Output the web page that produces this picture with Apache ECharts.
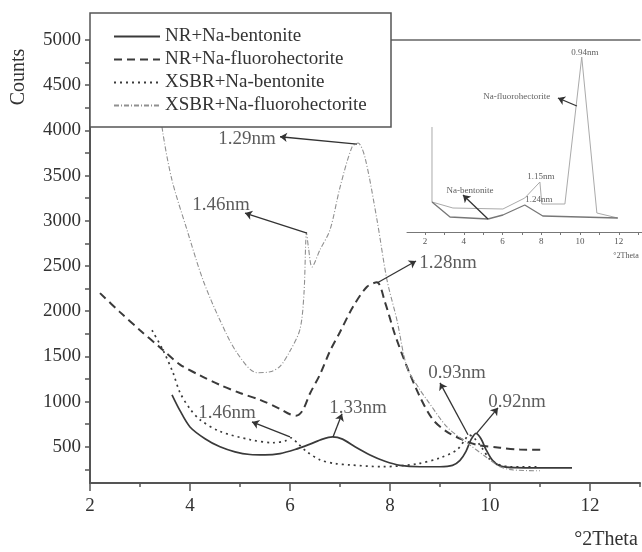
<!DOCTYPE html>
<html>
<head>
<meta charset="utf-8">
<style>
html, body { margin: 0; padding: 0; background: #fff; }
#main { width: 642px; height: 552px; }
</style>
<script src="https://cdn.jsdelivr.net/npm/echarts@6/dist/echarts.min.js"></script>
</head>
<body>
<div id="main"></div>
<script>
// main chart data (°2Theta, counts)
var seriesNames = ['NR+Na-bentonite', 'NR+Na-fluorohectorite', 'XSBR+Na-bentonite', 'XSBR+Na-fluorohectorite'];

var nrBentonite = [[3.64,1075],[3.8,900],[4.0,720],[4.3,590],[4.6,500],[4.9,445],[5.2,415],[5.5,410],[5.8,425],
  [6.1,470],[6.4,530],[6.65,585],[6.85,610],[7.05,585],[7.3,500],[7.6,410],[7.9,340],[8.2,295],[8.6,280],
  [9.0,280],[9.25,295],[9.4,350],[9.52,450],[9.62,580],[9.72,650],[9.82,590],[9.92,470],[10.05,350],
  [10.2,290],[10.5,270],[11.0,268],[11.64,268]];

var nrFluoro = [[2.2,2200],[2.6,1990],[3.0,1790],[3.4,1600],[3.8,1410],[4.2,1290],[4.6,1185],[5.0,1095],
  [5.4,1020],[5.8,920],[6.0,860],[6.12,845],[6.25,900],[6.4,1090],[6.6,1300],[6.8,1560],[7.0,1770],
  [7.26,2050],[7.54,2270],[7.74,2320],[7.9,2100],[8.1,1740],[8.34,1384],[8.6,1052],[8.86,800],
  [9.14,666],[9.46,577],[9.74,522],[10.2,490],[10.6,470],[11.04,467]];

var xsbrBentonite = [[3.24,1790],[3.46,1570],[3.66,1320],[3.8,1100],[4.0,920],[4.2,800],[4.6,670],[5.2,580],
  [5.66,545],[5.9,565],[6.02,600],[6.15,540],[6.34,445],[6.6,356],[6.9,315],[7.2,300],[7.86,280],
  [8.54,312],[9.0,378],[9.34,467],[9.5,580],[9.58,630],[9.68,600],[9.85,480],[10.0,360],[10.2,300],
  [10.4,280],[11.0,280]];

var xsbrFluoro = [[3.3,4700],[3.45,4000],[3.64,3450],[3.94,2900],[4.26,2345],[4.6,1900],[4.94,1540],
  [5.34,1320],[5.6,1330],[5.8,1390],[6.0,1560],[6.2,1800],[6.28,2200],[6.33,2870],[6.37,2700],
  [6.44,2490],[6.6,2680],[6.8,2900],[7.0,3370],[7.24,3815],[7.36,3860],[7.5,3700],[7.74,3010],
  [7.94,2345],[8.14,1900],[8.34,1380],[8.6,1130],[8.74,1020],[9.14,720],[9.54,545],[9.94,380],
  [10.2,280],[10.46,245],[11.0,235]];

// inset traces (°2Theta, relative intensity)
var insetFluoro = [[2.36,105],[2.36,30],[3.44,24],[6.02,23],[7.15,34],[7.93,50],[8.03,28],[9.22,28],
  [10.09,175],[10.87,19],[11.95,14]];
var insetBentonite = [[2.36,30],[3.29,15],[5.25,13],[6.02,17],[7.15,27],[8.08,16],[11.95,14]];

// tick labels
var yLabels = [500,1000,1500,2000,2500,3000,3500,4000,4500,5000];
var yTicks = [250,500,750,1000,1250,1500,1750,2000,2250,2500,2750,3000,3250,3500,3750,4000,4250,4500,4750,5000];
var insetTicks = [2,3,4,5,6,7,8,9,10,11,12,13];
var insetLabels = [2,4,6,8,10,12];

// annotations: text, label position, arrow from, arrow to
var mainNotes = [
  ['1.29nm', [5.14,3910], [7.34,3848], [5.8,3930]],
  ['1.46nm', [4.62,3174], [6.34,2865], [5.1,3086]],
  ['1.28nm', [9.16,2533], [7.74,2312], [8.52,2555]],
  ['1.46nm', [4.74,876], [6.0,610], [5.24,776]],
  ['1.33nm', [7.36,931], [6.86,610], [7.04,865]],
  ['0.93nm', [9.34,1318], [9.56,633], [9.0,1207]],
  ['0.92nm', [10.54,997], [9.74,655], [10.16,931]]
];
var insetNotes = [
  ['0.94nm', [10.25,179], null, null],
  ['Na-fluorohectorite', [6.74,135], [9.84,126], [8.86,134]],
  ['1.15nm', [7.98,55], null, null],
  ['1.24nm', [7.88,32], null, null],
  ['Na-bentonite', [4.32,41], [5.25,13], [3.96,37]]
];

var serif = 'Liberation Serif';
var ink = '#333';

function noteLabels(notes, xi, yi, size) {
  return {
    type: 'scatter', xAxisIndex: xi, yAxisIndex: yi, symbolSize: 0, silent: true, z: 5,
    label: { show: true, position: 'inside', color: ink, fontFamily: serif, fontSize: size,
      formatter: function (p) { return p.value[2]; } },
    data: notes.map(function (n) { return [n[1][0], n[1][1], n[0]]; })
  };
}
function noteArrows(notes, xi, yi) {
  return {
    type: 'lines', coordinateSystem: 'cartesian2d', xAxisIndex: xi, yAxisIndex: yi, silent: true, z: 5,
    symbol: ['none', 'arrow'], symbolSize: 7,
    lineStyle: { color: '#333', width: 1.3, opacity: 1 },
    data: notes.filter(function (n) { return n[2]; }).map(function (n) { return { coords: [n[2], n[3]] }; })
  };
}

var dom = document.getElementById('main');
var myChart = echarts.init(dom, null, { renderer: 'canvas' });

var option = {
  backgroundColor: '#fff',
  animation: false,
  grid: [
    { left: 90, right: 2, top: 40, bottom: 69 },
    { left: 407, right: 0, top: 40, bottom: 320 }
  ],
  legend: {
    data: seriesNames,
    orient: 'vertical',
    left: 113,
    top: 27,
    z: 10,
    padding: 0,
    itemWidth: 46,
    itemHeight: 14,
    itemGap: 4,
    itemStyle: { opacity: 0 },
    textStyle: { fontFamily: serif, fontSize: 19, lineHeight: 19, color: ink }
  },
  xAxis: [
    {
      gridIndex: 0, type: 'value', position: 'bottom', min: 2, max: 13, interval: 2,
      axisLine: { lineStyle: { color: '#555', width: 2 } },
      axisTick: { length: 8, lineStyle: { color: '#555', width: 1.5 } },
      axisLabel: { fontFamily: serif, fontSize: 19, color: ink, margin: 14, showMaxLabel: false },
      splitLine: { show: false }
    },
    {
      gridIndex: 0, type: 'value', position: 'top', min: 2, max: 13,
      axisLine: { lineStyle: { color: '#666', width: 1.5 } },
      axisTick: { show: false }, axisLabel: { show: false }, splitLine: { show: false }
    },
    {
      gridIndex: 0, type: 'value', position: 'bottom', min: 2, max: 13, interval: 1,
      axisLine: { show: false },
      axisTick: { length: 4, lineStyle: { color: '#555', width: 1.5 } },
      axisLabel: { show: false }, splitLine: { show: false }
    },
    {
      gridIndex: 1, type: 'value', min: 1.07, max: 13.2,
      axisLine: { lineStyle: { color: '#777', width: 1 } },
      axisTick: { customValues: insetTicks, length: 3, lineStyle: { color: '#777' } },
      axisLabel: { customValues: insetLabels, fontFamily: serif, fontSize: 9, color: '#555', margin: 5 },
      splitLine: { show: false }
    }
  ],
  yAxis: [
    {
      gridIndex: 0, type: 'value', min: 100, max: 5000,
      axisLine: { show: true, lineStyle: { color: '#555', width: 2 } },
      axisTick: { show: true, customValues: yTicks, length: 5, lineStyle: { color: '#555', width: 1.5 } },
      axisLabel: { customValues: yLabels, fontFamily: serif, fontSize: 19, color: ink, margin: 9,
        formatter: function (v) { return String(v); } },
      splitLine: { show: false }
    },
    { gridIndex: 1, type: 'value', min: 0, max: 192, show: false }
  ],
  graphic: [
    { type: 'rect', z: 6, shape: { x: 90, y: 13, width: 301, height: 114 },
      style: { fill: '#fff', stroke: '#555', lineWidth: 1.5 } },
    { type: 'text', x: 19, y: 77, rotation: Math.PI / 2,
      style: { text: 'Counts', textAlign: 'center', textVerticalAlign: 'middle', fontFamily: serif, fontSize: 20, fill: ink } },
    { type: 'text', x: 606, y: 540,
      style: { text: '°2Theta', textAlign: 'center', textVerticalAlign: 'middle', fontFamily: serif, fontSize: 20, fill: ink } },
    { type: 'text', x: 626, y: 256,
      style: { text: '°2Theta', textAlign: 'center', textVerticalAlign: 'middle', fontFamily: serif, fontSize: 8, fill: '#555' } }
  ],
  series: [
    { name: seriesNames[0], type: 'line', data: nrBentonite, symbol: 'none', smooth: 0.3,
      lineStyle: { color: '#3a3a3a', width: 1.7 }, itemStyle: { color: '#3a3a3a' } },
    { name: seriesNames[1], type: 'line', data: nrFluoro, symbol: 'none', smooth: 0.3,
      lineStyle: { color: '#3a3a3a', width: 2, type: [8, 5] }, itemStyle: { color: '#3a3a3a' } },
    { name: seriesNames[2], type: 'line', data: xsbrBentonite, symbol: 'none', smooth: 0.3,
      lineStyle: { color: '#3a3a3a', width: 1.7, type: [2, 4] }, itemStyle: { color: '#3a3a3a' } },
    { name: seriesNames[3], type: 'line', data: xsbrFluoro, symbol: 'none', smooth: 0.3,
      lineStyle: { color: '#909090', width: 1.1, type: [5, 2, 1, 2] }, itemStyle: { color: '#909090' } },
    { type: 'line', xAxisIndex: 3, yAxisIndex: 1, data: insetFluoro, symbol: 'none', silent: true,
      lineStyle: { color: '#aaa', width: 1 } },
    { type: 'line', xAxisIndex: 3, yAxisIndex: 1, data: insetBentonite, symbol: 'none', silent: true,
      lineStyle: { color: '#777', width: 1.3 } },
    noteArrows(mainNotes, 0, 0),
    noteLabels(mainNotes, 0, 0, 19),
    noteArrows(insetNotes, 3, 1),
    noteLabels(insetNotes, 3, 1, 9)
  ]
};

if (option && typeof option === 'object') {
  myChart.setOption(option);
}

window.addEventListener('resize', myChart.resize);
</script>
</body>
</html>
